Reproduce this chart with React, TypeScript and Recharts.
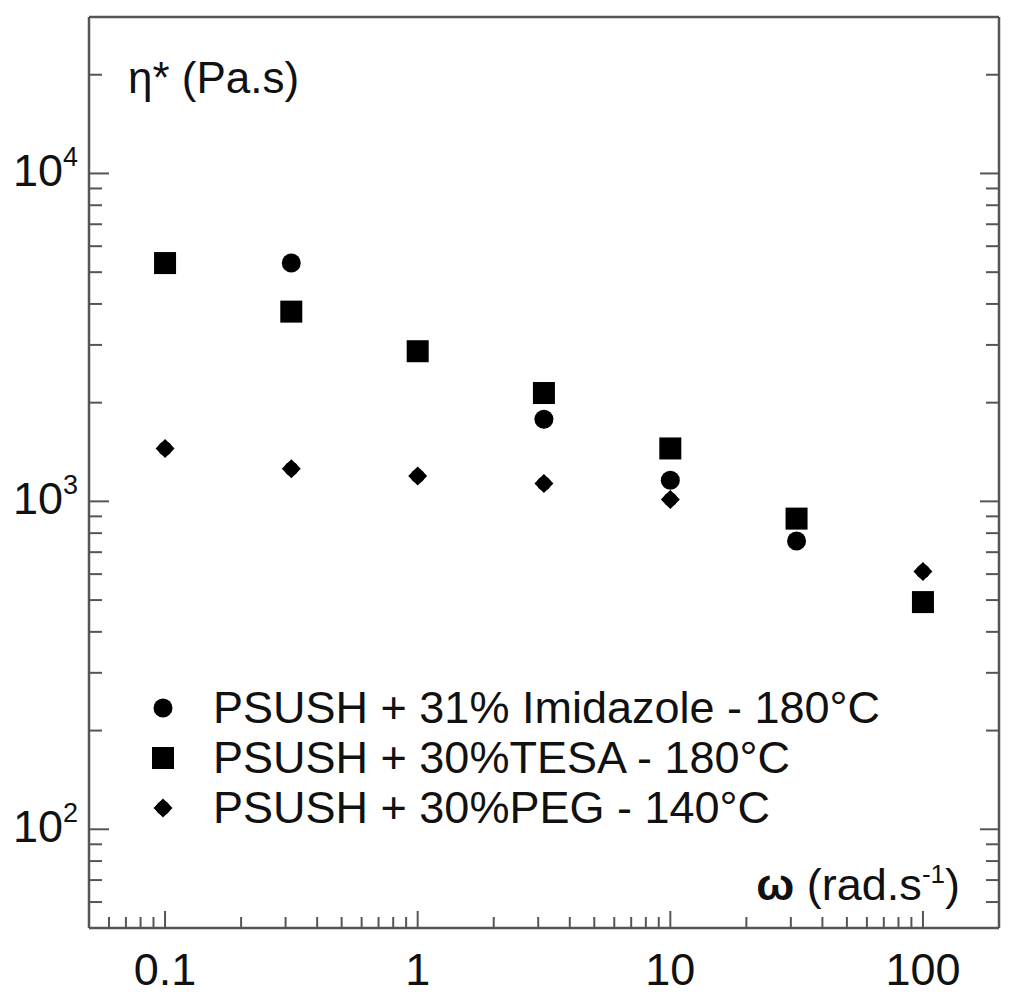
import { ScatterChart, Scatter, XAxis, YAxis, Legend } from 'recharts'

// angular frequency (rad/s) and complex viscosity (Pa.s)
const omega = [0.1, 0.316, 1, 3.16, 10, 31.6, 100]
const imidazole = [5300, 5330, 2870, 1780, 1160, 757, 490]
const tesa = [5330, 3790, 2870, 2140, 1450, 886, 493]
const peg = [1450, 1257, 1194, 1134, 1014, null, 611]

const xMajor = [0.1, 1, 10, 100]
const xMinor = [
  0.06, 0.07, 0.08, 0.09,
  0.2, 0.3, 0.4, 0.5, 0.6, 0.7, 0.8, 0.9,
  2, 3, 4, 5, 6, 7, 8, 9,
  20, 30, 40, 50, 60, 70, 80, 90,
]
const yMajor = [100, 1000, 10000]
const yMinor = [
  60, 70, 80, 90,
  200, 300, 400, 500, 600, 700, 800, 900,
  2000, 3000, 4000, 5000, 6000, 7000, 8000, 9000,
  20000,
]
const xLabels = ['0.1', '1', '10', '100']
const yExponents = ['2', '3', '4']

const xTicks = [...xMajor, ...xMinor].sort((a, b) => a - b)
const yTicks = [...yMajor, ...yMinor].sort((a, b) => a - b)

const series = [
  { name: 'PSUSH + 31% Imidazole - 180°C', values: imidazole, kind: 'circle' },
  { name: 'PSUSH + 30%TESA - 180°C', values: tesa, kind: 'square' },
  { name: 'PSUSH + 30%PEG - 140°C', values: peg, kind: 'plus' },
]

const FONT = '"Liberation Sans", Arial, sans-serif'
const INK = '#111'
const AXIS = '#555'

const toPoints = (vals: (number | null)[]) =>
  omega.map((w, i) => ({ w, eta: vals[i] })).filter((p) => p.eta != null)

function Marker({ kind, cx, cy }: { kind: string; cx: number; cy: number }) {
  if (kind === 'square') return <rect x={cx - 11} y={cy - 11} width={22} height={22} fill="#000" />
  if (kind === 'circle') return <circle cx={cx} cy={cy} r={9.5} fill="#000" />
  return (
    <g fill="#000">
      <circle cx={cx} cy={cy} r={7} />
      <polygon points={`${cx},${cy - 9.5} ${cx + 9.5},${cy} ${cx},${cy + 9.5} ${cx - 9.5},${cy}`} />
    </g>
  )
}

const orderOf = (name: string) => series.findIndex((s) => s.name === name)
const kindOf = (name: string) => series.find((s) => s.name === name)?.kind ?? 'circle'

const BottomTick = ({ x, y, payload }: any) => {
  const i = xMajor.indexOf(payload.value)
  return (
    <g>
      <line x1={x} x2={x} y1={y} y2={y - (i >= 0 ? 17 : 11)} stroke={AXIS} strokeWidth={2} />
      {i >= 0 && (
        <text x={x} y={y + 57} textAnchor="middle" fontSize={45} fontFamily={FONT} fill={INK}>
          {xLabels[i]}
        </text>
      )}
    </g>
  )
}

const TopTick = ({ x, y, payload }: any) => {
  const major = xMajor.includes(payload.value)
  return <line x1={x} x2={x} y1={y} y2={y + (major ? 18 : 11)} stroke={AXIS} strokeWidth={2} />
}

const LeftTick = ({ x, y, payload }: any) => {
  const i = yMajor.indexOf(payload.value)
  return (
    <g>
      <line x1={x} x2={x + (i >= 0 ? 20 : 13)} y1={y} y2={y} stroke={AXIS} strokeWidth={2} />
      {i >= 0 && (
        <text x={x - 11} y={y + 13} textAnchor="end" fontFamily={FONT} fill={INK}>
          <tspan fontSize={45}>10</tspan>
          <tspan fontSize={27} dy={-20}>{yExponents[i]}</tspan>
        </text>
      )}
    </g>
  )
}

const RightTick = ({ x, y, payload }: any) => {
  const major = yMajor.includes(payload.value)
  return <line x1={x} x2={x - (major ? 19 : 13)} y1={y} y2={y} stroke={AXIS} strokeWidth={2} />
}

const renderLegend = ({ payload }: any) => {
  const items = [...(payload ?? [])].sort((a: any, b: any) => orderOf(a.value) - orderOf(b.value))
  return (
    <div style={{ fontFamily: FONT, color: INK }}>
      {items.map((entry: any) => (
        <div key={entry.value} style={{ display: 'flex', alignItems: 'center', height: 50 }}>
          <svg width={73} height={50}>
            <Marker kind={kindOf(entry.value)} cx={23} cy={25} />
          </svg>
          <span style={{ fontSize: 45, lineHeight: '50px', whiteSpace: 'nowrap' }}>{entry.value}</span>
        </div>
      ))}
    </div>
  )
}

const etaLabel = ({ viewBox }: any) => (
  <text x={viewBox.x + viewBox.width + 39} y={viewBox.y + 76} fontFamily={FONT} fontSize={44} fill={INK}>
    η* (Pa.s)
  </text>
)

const omegaLabel = ({ viewBox }: any) => (
  <text x={viewBox.x + viewBox.width - 39} y={viewBox.y - 28} textAnchor="end" fontFamily={FONT} fontSize={45} fill={INK}>
    <tspan fontWeight="bold">ω</tspan>
    <tspan> (rad.s</tspan>
    <tspan fontSize={26} dy={-17}>-1</tspan>
    <tspan dy={17}>)</tspan>
  </text>
)

export default function App() {
  return (
    <ScatterChart width={996} height={992} margin={{ top: 8, right: 4, bottom: 8, left: 0 }}>
      <XAxis
        dataKey="w"
        type="number"
        scale="log"
        domain={[0.05, 200]}
        allowDataOverflow
        ticks={xTicks}
        interval={0}
        tick={<BottomTick />}
        tickLine={false}
        tickSize={0}
        tickMargin={0}
        height={64}
        axisLine={{ stroke: AXIS, strokeWidth: 2.5 }}
        label={{ content: omegaLabel }}
      />
      <XAxis
        xAxisId="top"
        orientation="top"
        type="number"
        scale="log"
        domain={[0.05, 200]}
        allowDataOverflow
        ticks={xTicks}
        interval={0}
        tick={<TopTick />}
        tickLine={false}
        tickSize={0}
        tickMargin={0}
        height={1}
        axisLine={{ stroke: AXIS, strokeWidth: 2.5 }}
      />
      <YAxis
        dataKey="eta"
        type="number"
        scale="log"
        domain={[50, 30000]}
        allowDataOverflow
        ticks={yTicks}
        interval={0}
        tick={<LeftTick />}
        tickLine={false}
        tickSize={0}
        tickMargin={0}
        width={81}
        axisLine={{ stroke: AXIS, strokeWidth: 2.5 }}
        label={{ content: etaLabel }}
      />
      <YAxis
        yAxisId="right"
        orientation="right"
        type="number"
        scale="log"
        domain={[50, 30000]}
        allowDataOverflow
        ticks={yTicks}
        interval={0}
        tick={<RightTick />}
        tickLine={false}
        tickSize={0}
        tickMargin={0}
        width={1}
        axisLine={{ stroke: AXIS, strokeWidth: 2.5 }}
      />
      <Legend
        layout="vertical"
        align="center"
        verticalAlign="middle"
        content={renderLegend}
        wrapperStyle={{ left: 132, top: 675, width: 820 }}
      />
      {series.map((s) => (
        <Scatter
          key={s.name}
          name={s.name}
          data={toPoints(s.values)}
          fill="#000"
          isAnimationActive={false}
          shape={(p: any) => <Marker kind={s.kind} cx={p.cx} cy={p.cy} />}
        />
      ))}
    </ScatterChart>
  )
}
